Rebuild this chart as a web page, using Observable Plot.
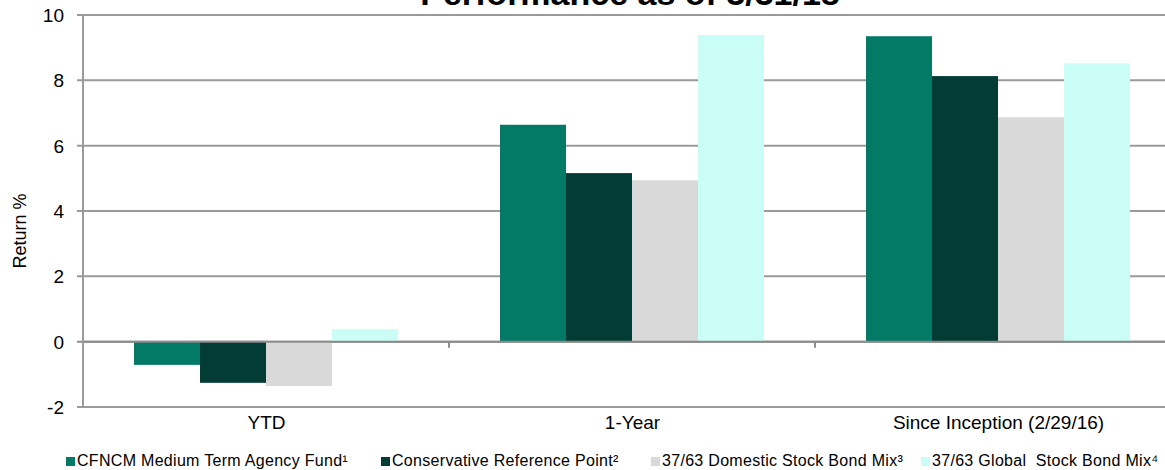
<!DOCTYPE html>
<html>
<head>
<meta charset="utf-8">
<script src="https://cdn.jsdelivr.net/npm/d3@7"></script>
<script src="https://cdn.jsdelivr.net/npm/@observablehq/plot@0.6"></script>
<style>
  html, body { margin: 0; padding: 0; background: #fff; overflow: hidden; }
  body { font-family: "Liberation Sans", Arial, sans-serif; }
  #wrap { position: relative; width: 1165px; height: 470px; overflow: hidden; }
  #title { position: absolute; top: -24px; left: 83px; width: 1094px; text-align: center;
           font-size: 34px; font-weight: bold; color: #000; line-height: 34px; white-space: nowrap; }
  #chart { position: absolute; top: 0; left: 0; }
  #legend { position: absolute; top: 451px; left: 0; width: 1165px; height: 20px;
            font-size: 16px; letter-spacing: 0.3px; color: #000; }
  .item { position: absolute; top: 0; display: flex; align-items: center; white-space: nowrap; height: 20px; }
  .sw { width: 9px; height: 9px; margin-right: 2px; display: inline-block; }
</style>
</head>
<body>
<div id="wrap">
  <div id="chart"></div>
  <div id="title"></div>
  <div id="legend"></div>
</div>
<script>
const titleText = "Performance as of 3/31/18";
const periods = ["YTD", "1-Year", "Since Inception (2/29/16)"];
const seriesNames = [
  "CFNCM Medium Term Agency Fund¹",
  "Conservative Reference Point²",
  "37/63 Domestic Stock Bond Mix³",
  "37/63 Global  Stock Bond Mix⁴"
];
const seriesColors = ["#037A66", "#023C35", "#D9D9D9", "#C9FDF5"];
const fundValues = [-0.71, 6.64, 9.35];
const conservativeValues = [-1.26, 5.16, 8.13];
const domesticValues = [-1.36, 4.94, 6.87];
const globalValues = [0.38, 9.39, 8.52];
const yTicks = [-2, 0, 2, 4, 6, 8, 10];
const legendLeft = [66, 381, 651, 921];

const allValues = [fundValues, conservativeValues, domesticValues, globalValues];
const data = [];
periods.forEach((p, i) => {
  seriesNames.forEach((s, j) => {
    data.push({period: p, series: s, value: allValues[j][i]});
  });
});

document.getElementById("title").textContent = titleText;

const mL = 83;
const plot = Plot.plot({
  width: 1165,
  height: 440,
  marginLeft: mL,
  marginRight: -16,
  marginTop: 15,
  marginBottom: 33,
  style: {fontFamily: "Liberation Sans, Arial, sans-serif", fontSize: "19px", color: "#000", overflow: "visible"},
  fx: {domain: periods, paddingInner: 0.273, paddingOuter: 0.1365, label: null, axis: null},
  x: {domain: seriesNames, padding: 0, axis: null},
  y: {domain: [-2, 10], label: null, axis: null},
  color: {domain: seriesNames, range: seriesColors},
  marks: [
    Plot.barY(data, {fx: "period", x: "series", y: "value", fill: "series", inset: 0}),
    Plot.axisFx({anchor: "bottom", tickSize: 0, tickPadding: 8, fontSize: 19, label: null})
  ]
});
document.getElementById("chart").appendChild(plot);

const svg = d3.select(plot);
const fx = plot.scale("fx");
const y = plot.scale("y");
const step = fx.step;
const bw = fx.bandwidth;
const gap = (step - bw) / 2;
const right = mL + periods.length * step;
const gridColor = "#9a9a9a";

// gridlines underneath the bars
const grid = svg.insert("g", ":first-child");
yTicks.forEach(t => {
  grid.append("line")
    .attr("x1", mL - 6).attr("x2", right)
    .attr("y1", y.apply(t)).attr("y2", y.apply(t))
    .attr("stroke", t === 0 ? "#8c8c8c" : gridColor).attr("stroke-width", 2);
});

const g = svg.append("g");
// zero axis line over bars
g.append("line")
  .attr("x1", mL).attr("x2", right)
  .attr("y1", y.apply(0)).attr("y2", y.apply(0))
  .attr("stroke", "#8c8c8c").attr("stroke-width", 2);
// vertical axis
g.append("line")
  .attr("x1", mL).attr("x2", mL)
  .attr("y1", y.apply(10)).attr("y2", y.apply(-2))
  .attr("stroke", gridColor).attr("stroke-width", 2);
// category boundary ticks
periods.slice(1).forEach(p => {
  const xb = fx.apply(p) - gap;
  g.append("line")
    .attr("x1", xb).attr("x2", xb)
    .attr("y1", y.apply(0)).attr("y2", y.apply(0) + 6)
    .attr("stroke", "#8c8c8c").attr("stroke-width", 2);
});
// y tick labels
yTicks.forEach(t => {
  g.append("text")
    .attr("x", mL - 19).attr("y", y.apply(t))
    .attr("dy", "0.36em")
    .attr("text-anchor", "end")
    .attr("font-size", 19)
    .attr("fill", "#000")
    .text(String(t));
});
svg.append("text")
  .attr("transform", `translate(20,${(y.apply(10) + y.apply(-2)) / 2 + 20}) rotate(-90)`)
  .attr("text-anchor", "middle")
  .attr("dy", "0.36em")
  .attr("font-size", 18)
  .attr("fill", "#000")
  .text("Return %");

const legend = document.getElementById("legend");
seriesNames.forEach((s, i) => {
  const it = document.createElement("div");
  it.className = "item";
  it.style.left = legendLeft[i] + "px";
  const sw = document.createElement("span");
  sw.className = "sw";
  sw.style.background = seriesColors[i];
  const t = document.createElement("span");
  t.textContent = s;
  t.style.whiteSpace = "pre";
  it.appendChild(sw);
  it.appendChild(t);
  legend.appendChild(it);
});
</script>
</body>
</html>
